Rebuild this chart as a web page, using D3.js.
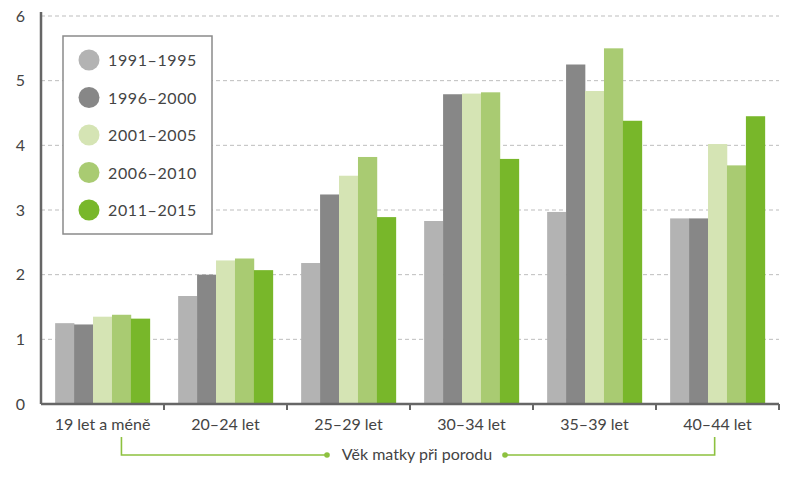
<!DOCTYPE html>
<html>
<head>
<meta charset="utf-8">
<script src="https://cdn.jsdelivr.net/npm/d3@7"></script>
<style>
  body { margin: 0; background: #fff; }
  text { font-family: "Century Gothic", Futura, Lato, "Noto Sans", sans-serif; fill: #444; }
</style>
</head>
<body>
<div class="canvas"></div>
<script>
const categories = ["19 let a méně", "20–24 let", "25–29 let", "30–34 let", "35–39 let", "40–44 let"];
const series = ["1991–1995", "1996–2000", "2001–2005", "2006–2010", "2011–2015"];
const colors = ["#b3b3b3", "#878787", "#d5e4b4", "#a9cb72", "#78b72a"];
const v1991 = [1.25, 1.67, 2.18, 2.83, 2.97, 2.87];
const v1996 = [1.23, 2.00, 3.24, 4.79, 5.25, 2.87];
const v2001 = [1.35, 2.22, 3.53, 4.80, 4.84, 4.02];
const v2006 = [1.38, 2.25, 3.82, 4.82, 5.50, 3.69];
const v2011 = [1.32, 2.07, 2.89, 3.79, 4.38, 4.45];
const yTicks = [0, 1, 2, 3, 4, 5, 6];
const axisTitle = "Věk matky při porodu";

const values = [v1991, v1996, v2001, v2006, v2011];
const data = categories.map((c, i) => ({
  cat: c,
  vals: series.map((s, j) => ({ s, v: values[j][i], color: colors[j] }))
}));

const dims = { width: 800, height: 479 };
const plot = { left: 41, right: 779, top: 16, bottom: 404 };

const svg = d3
  .select(".canvas")
  .append("svg")
  .attr("width", dims.width)
  .attr("height", dims.height);

const x = d3
  .scaleBand()
  .domain(categories)
  .range([plot.left, plot.right])
  .paddingInner(0.23)
  .paddingOuter(0.115);

const xInner = d3.scaleBand().domain(series).range([0, x.bandwidth()]);

const y = d3.scaleLinear().domain([0, 6]).range([plot.bottom, plot.top]);

// gridlines
svg
  .append("g")
  .selectAll("line")
  .data(yTicks.filter((t) => t > 0))
  .enter()
  .append("line")
  .attr("x1", plot.left)
  .attr("x2", plot.right)
  .attr("y1", (d) => y(d))
  .attr("y2", (d) => y(d))
  .attr("stroke", "#bdbdbd")
  .attr("stroke-width", 1)
  .attr("stroke-dasharray", "4,3");

// bars
const groups = svg
  .append("g")
  .selectAll("g")
  .data(data)
  .enter()
  .append("g")
  .attr("transform", (d) => `translate(${x(d.cat)},0)`);

groups
  .selectAll("rect")
  .data((d) => d.vals)
  .enter()
  .append("rect")
  .attr("x", (d) => xInner(d.s))
  .attr("width", xInner.bandwidth() + 0.3)
  .attr("y", (d) => y(d.v))
  .attr("height", (d) => y(0) - y(d.v))
  .attr("fill", (d) => d.color);

// y axis
const yAxis = svg
  .append("g")
  .attr("transform", `translate(${plot.left},0)`)
  .call(d3.axisLeft(y).tickValues(yTicks).tickSize(0).tickPadding(16).tickFormat(d3.format("d")));
yAxis.select(".domain").attr("stroke", "#666").attr("stroke-width", 2.5)
  .attr("d", `M0,${plot.top - 4}V${plot.bottom}`);
yAxis.selectAll("text").style("font-size", "16px").attr("fill", "#444");

// x axis
const xAxis = svg.append("g").attr("transform", `translate(0,${plot.bottom})`);
xAxis
  .append("line")
  .attr("x1", plot.left)
  .attr("x2", plot.right)
  .attr("stroke", "#666")
  .attr("stroke-width", 2.5);

const bounds = categories.map((c) => x(c) - x.step() * x.paddingOuter()).concat([plot.right]);
xAxis
  .selectAll(".tick")
  .data(bounds.slice(1))
  .enter()
  .append("line")
  .attr("x1", (d) => d)
  .attr("x2", (d) => d)
  .attr("y1", 0)
  .attr("y2", 6)
  .attr("stroke", "#666")
  .attr("stroke-width", 2);

xAxis
  .selectAll("text")
  .data(categories)
  .enter()
  .append("text")
  .attr("x", (d) => x(d) + x.bandwidth() / 2)
  .attr("y", 26)
  .attr("text-anchor", "middle")
  .style("font-size", "16px")
  .text((d) => d);

// bracket under axis
const brLeft = x(categories[0]) + x.bandwidth() * 0.7;
const brRight = x(categories[categories.length - 1]) + x.bandwidth() * 0.47;
const brTop = 437, brY = 455;
const titleX = 417;
const bracket = svg.append("g").attr("stroke", "#8dc13f").attr("stroke-width", 1.6).attr("fill", "none");
bracket.append("path").attr("d", `M${brLeft},${brTop}V${brY}H${titleX - 90}`);
bracket.append("path").attr("d", `M${brRight},${brTop}V${brY}H${titleX + 88}`);
svg.selectAll(".dot")
  .data([titleX - 90, titleX + 88])
  .enter()
  .append("circle")
  .attr("cx", (d) => d)
  .attr("cy", brY)
  .attr("r", 2.8)
  .attr("fill", "#8dc13f");
svg.append("text")
  .attr("x", titleX)
  .attr("y", brY + 5)
  .attr("text-anchor", "middle")
  .style("font-size", "16px")
  .text(axisTitle);

//legend
const legend = svg.append("g").attr("transform", "translate(63,36)");
legend
  .append("rect")
  .attr("width", 149)
  .attr("height", 198)
  .attr("fill", "#fff")
  .attr("stroke", "#8a8a8a")
  .attr("stroke-width", 1.5);
const items = legend
  .selectAll(".item")
  .data(series)
  .enter()
  .append("g")
  .attr("transform", (d, i) => `translate(26,${24 + i * 37.5})`);
items
  .append("circle")
  .attr("r", 10.5)
  .attr("fill", (d, i) => colors[i]);
items
  .append("text")
  .attr("x", 19)
  .attr("y", 6)
  .style("font-size", "16px")
  .style("letter-spacing", "0.6px")
  .text((d) => d);
</script>
</body>
</html>
